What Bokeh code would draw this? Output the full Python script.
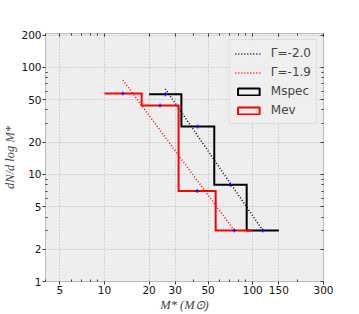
from bokeh.plotting import figure
from bokeh.models import (Range1d, FixedTicker, LogAxis, ColumnDataSource, Legend,
                          LegendItem, CustomJSTickFormatter)
from bokeh.embed import file_html
from bokeh.resources import INLINE

# ---- data ----
mspec_edges = [20, 33, 55, 91, 150]
mspec_vals = [56, 28, 8, 3]
mev_edges = [10, 17.8, 31.6, 56.2, 100]
mev_vals = [57, 44, 7, 3]

mspec_centers = [25.7, 42.6, 70.7, 116.8]
mev_centers = [13.3, 23.7, 42.2, 75]

gamma20_x = [25.7, 116.8]
gamma20_y = [63, 3]
gamma19_x = [13.3, 75]
gamma19_y = [76, 3]

x_ticks = [5, 10, 20, 30, 50, 100, 150, 300]
x_minor = [4, 6, 7, 8, 9, 40, 60, 70, 80, 90, 200]
y_ticks = [1, 2, 5, 10, 20, 50, 100, 200]
y_minor = [3, 4, 6, 7, 8, 9, 30, 40, 60, 70, 80, 90]

BG = "#eeeeee"

p = figure(frame_width=278, frame_height=248, x_axis_type="log", y_axis_type="log",
           x_range=Range1d(4, 300), y_range=Range1d(1, 207),
           output_backend="svg", toolbar_location=None,
           min_border_left=37, min_border_right=28, min_border_top=33,
           min_border_bottom=20)
p.background_fill_color = BG
p.border_fill_color = "white"
p.outline_line_color = "#bcbcbc"
p.outline_line_width = 1

xt = FixedTicker(ticks=x_ticks, minor_ticks=x_minor)
yt = FixedTicker(ticks=y_ticks, minor_ticks=y_minor)
p.xaxis.ticker = xt
p.yaxis.ticker = yt
p.xgrid.ticker = xt
p.ygrid.ticker = yt
p.xaxis.major_label_overrides = {t: str(t) for t in x_ticks}
p.yaxis.major_label_overrides = {t: str(t) for t in y_ticks}

for g in (p.xgrid, p.ygrid):
    g.grid_line_color = "#b2b2b2"
    g.grid_line_dash = "1 2"
    g.grid_line_width = 1

for ax in (p.xaxis, p.yaxis):
    ax.axis_line_color = None
    ax.major_tick_out = 3
    ax.major_tick_in = 0
    ax.minor_tick_out = 0
    ax.minor_tick_in = 2
    ax.major_tick_line_color = "#333333"
    ax.minor_tick_line_color = "#333333"
    ax.major_label_text_font = "DejaVu Sans"
    ax.major_label_text_font_size = "10.5px"
    ax.major_label_text_color = "#111111"
    ax.major_label_standoff = 1
    ax.axis_label_text_font = "Liberation Serif"
    ax.axis_label_text_font_style = "italic"
    ax.axis_label_text_font_size = "12.5px"
    ax.axis_label_standoff = 1

p.xaxis.axis_label = "M* (M⊙)"
p.yaxis.axis_label = "dN/d log M*"

empty_fmt = CustomJSTickFormatter(code="return ''")
top = LogAxis(ticker=xt, formatter=empty_fmt, axis_line_color=None,
              major_tick_in=3, major_tick_out=0, minor_tick_in=2, minor_tick_out=0,
              major_label_text_font_size="0px", major_label_standoff=0,
              major_tick_line_color="#333333", minor_tick_line_color="#333333")
right = LogAxis(ticker=yt, formatter=empty_fmt, axis_line_color=None,
                major_tick_in=3, major_tick_out=0, minor_tick_in=2, minor_tick_out=0,
                major_label_text_font_size="0px", major_label_standoff=0,
                major_tick_line_color="#333333", minor_tick_line_color="#333333")
p.add_layout(top, "above")
p.add_layout(right, "right")

# power laws
r_g20 = p.line(gamma20_x, gamma20_y, line_color="black", line_width=1.5, line_dash="1 2")
r_g19 = p.line(gamma19_x, gamma19_y, line_color="red", line_width=1.5, line_dash="1 2")

# histograms as steps
p.step(mspec_edges, mspec_vals + [mspec_vals[-1]], mode="after",
       line_color="black", line_width=2, line_join="miter")
p.step(mev_edges, mev_vals + [mev_vals[-1]], mode="after",
       line_color="red", line_width=2, line_join="miter")

# bin-centre markers
p.scatter(mspec_centers, mspec_vals, marker="cross", size=4, line_color="blue", line_width=1)
p.scatter(mev_centers, mev_vals, marker="cross", size=4, line_color="blue", line_width=1)

# legend proxies (rectangles), placed far outside the visible range
proxy = ColumnDataSource(dict(left=[1e5], right=[2e5], top=[2e5], bottom=[1e5]))
r_ms = p.quad(left="left", right="right", top="top", bottom="bottom", source=proxy,
              fill_color=None, line_color="black", line_width=2)
r_mv = p.quad(left="left", right="right", top="top", bottom="bottom", source=proxy,
              fill_color=None, line_color="red", line_width=2)

legend = Legend(items=[LegendItem(label="Γ=-2.0", renderers=[r_g20]),
                       LegendItem(label="Γ=-1.9", renderers=[r_g19]),
                       LegendItem(label="Mspec", renderers=[r_ms]),
                       LegendItem(label="Mev", renderers=[r_mv])],
                location="top_right")
legend.background_fill_color = BG
legend.background_fill_alpha = 0.9
legend.border_line_color = "#cccccc"
legend.label_text_font = "DejaVu Sans"
legend.label_text_font_size = "12px"
legend.glyph_width = 27
legend.glyph_height = 9
legend.label_height = 16
legend.label_standoff = 9
legend.padding = 5
legend.spacing = 3
legend.margin = 6
p.add_layout(legend)

open("out.html", "w").write(file_html(p, INLINE))
